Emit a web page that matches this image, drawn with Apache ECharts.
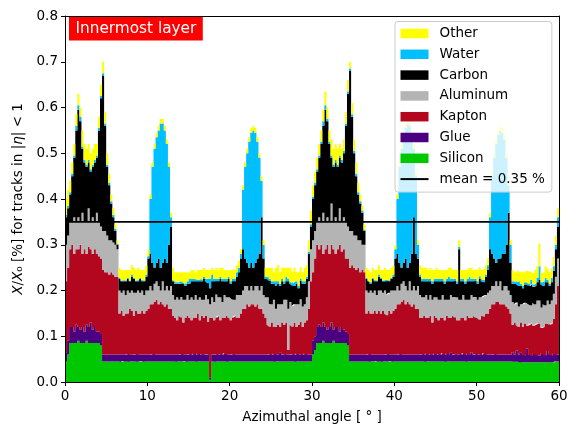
<!DOCTYPE html>
<html><head><meta charset="utf-8">
<script src="https://cdn.jsdelivr.net/npm/echarts@6/dist/echarts.min.js"></script>
<style>html,body{margin:0;padding:0;background:#fff}#c{width:577px;height:433px}</style>
</head><body><div id="c"></div>
<script>
// Bin width of the azimuthal histogram (degrees); one value per bin, bins start at 0
const binWidth = 0.25;
const xTickLabels = [0, 10, 20, 30, 40, 50, 60];
const meanValue = 0.35;
const meanName = 'mean = 0.35 %';

// Per-material X/X0 [%] per 0.25 degree bin (stacked bottom to top), 240 bins
const silicon = [
 .045,.06,.085,.085,.085,.085,.09,.085,.085,.085,
 .09,.085,.085,.085,.085,.085,.085,.08,.045,.045,
 .045,.045,.045,.045,.045,.045,.045,.044,.046,.045,
 .045,.044,.045,.045,.045,.044,.045,.046,.045,.045,
 .045,.045,.045,.045,.045,.045,.045,.045,.045,.045,
 .045,.045,.045,.045,.044,.045,.045,.045,.046,.045,
 .045,.045,.045,.045,.044,.045,.045,.045,.045,.045,
 .005,.045,.045,.044,.045,.045,.045,.045,.045,.044,
 .045,.045,.045,.045,.045,.045,.045,.045,.045,.045,
 .045,.045,.045,.045,.045,.045,.045,.045,.045,.045,
 .045,.045,.044,.045,.045,.045,.045,.045,.045,.045,
 .045,.045,.044,.045,.045,.045,.045,.045,.045,.045,
 .06,.07,.085,.085,.085,.09,.085,.085,.085,.085,
 .09,.085,.085,.085,.085,.085,.085,.08,.045,.045,
 .045,.045,.045,.045,.045,.045,.045,.045,.044,.045,
 .045,.046,.045,.045,.044,.045,.045,.045,.046,.045,
 .045,.045,.045,.045,.045,.045,.045,.045,.045,.045,
 .045,.045,.045,.045,.045,.044,.045,.045,.045,.045,
 .045,.045,.045,.045,.045,.044,.045,.045,.045,.045,
 .045,.045,.045,.045,.045,.044,.045,.045,.045,.045,
 .045,.045,.045,.045,.045,.045,.045,.045,.045,.045,
 .045,.045,.045,.045,.045,.045,.045,.045,.044,.044,
 .044,.043,.043,.043,.043,.043,.043,.043,.043,.043,
 .043,.043,.043,.043,.043,.043,.043,.043,.045,.045];
const glue = [
 .02,.03,.035,.035,.025,.04,.03,.03,.035,.025,
 .035,.035,.045,.03,.035,.025,.025,.025,.015,.015,
 .015,.015,.015,.015,.015,.015,.015,.016,.014,.015,
 .016,.016,.015,.015,.016,.016,.015,.014,.015,.015,
 .015,.015,.016,.015,.015,.015,.015,.015,.015,.015,
 .015,.015,.015,.015,.016,.015,.016,.015,.014,.015,
 .016,.015,.017,.015,.018,.015,.016,.015,.015,.016,
 .005,.015,.015,.017,.015,.016,.015,.018,.015,.016,
 .015,.016,.015,.015,.015,.015,.015,.015,.015,.015,
 .015,.015,.015,.015,.015,.015,.015,.015,.015,.016,
 .015,.017,.016,.015,.02,.015,.016,.015,.015,.015,
 .016,.015,.018,.015,.016,.015,.017,.015,.015,.015,
 .03,.03,.035,.04,.035,.04,.035,.03,.035,.045,
 .025,.035,.035,.025,.035,.03,.025,.025,.015,.015,
 .015,.015,.015,.015,.015,.015,.015,.016,.016,.015,
 .015,.014,.015,.015,.016,.015,.016,.015,.014,.015,
 .015,.015,.016,.015,.015,.015,.015,.015,.015,.015,
 .015,.015,.015,.016,.015,.018,.015,.016,.015,.017,
 .015,.016,.015,.018,.015,.018,.015,.02,.015,.016,
 .015,.016,.015,.018,.015,.018,.015,.02,.015,.016,
 .015,.016,.015,.018,.015,.015,.015,.015,.016,.015,
 .015,.015,.015,.015,.015,.015,.015,.02,.016,.025,
 .016,.022,.017,.015,.03,.017,.015,.02,.017,.015,
 .015,.02,.017,.015,.025,.017,.015,.02,.015,.015];
const kapton = [
 .155,.16,.17,.18,.17,.165,.17,.185,.16,.18,
 .155,.175,.16,.165,.17,.17,.165,.165,.185,.18,
 .18,.175,.18,.175,.17,.17,.09,.095,.085,.09,
 .089,.10,.095,.085,.094,.09,.09,.095,.09,.095,
 .10,.11,.109,.115,.12,.11,.115,.11,.105,.11,
 .10,.10,.085,.08,.075,.085,.08,.07,.08,.085,
 .079,.075,.078,.08,.088,.075,.084,.08,.085,.07,
 .13,.08,.075,.08,.085,.074,.08,.077,.085,.08,
 .075,.08,.085,.08,.08,.09,.10,.10,.11,.105,
 .11,.11,.105,.11,.10,.10,.09,.08,.065,.06,
 .07,.058,.06,.065,.055,.07,.064,.07,.01,.065,
 .06,.07,.058,.065,.07,.06,.068,.075,.10,.16,
 .15,.17,.18,.165,.18,.15,.17,.185,.16,.17,
 .175,.16,.17,.19,.165,.175,.16,.165,.19,.195,
 .19,.185,.19,.18,.185,.18,.09,.094,.09,.09,
 .095,.09,.095,.09,.095,.09,.085,.095,.09,.095,
 .10,.11,.109,.115,.12,.11,.115,.11,.105,.11,
 .10,.10,.08,.079,.085,.078,.08,.084,.07,.083,
 .08,.074,.08,.077,.075,.083,.08,.075,.085,.08,
 .075,.074,.08,.077,.075,.083,.08,.075,.085,.08,
 .08,.075,.085,.08,.09,.09,.10,.11,.109,.115,
 .115,.11,.11,.11,.105,.10,.09,.06,.07,.055,
 .06,.065,.06,.07,.05,.065,.07,.06,.065,.07,
 .07,.055,.06,.07,.06,.065,.07,.075,.11,.15];
const aluminum = [
 .08,.07,.06,.05,.08,.06,.07,.05,.09,.06,
 .07,.085,.06,.08,.06,.09,.075,.07,.085,.09,
 .08,.075,.07,.07,.07,.06,.05,.04,.055,.04,
 .05,.035,.045,.05,.04,.05,.045,.045,.04,.045,
 .04,.04,.03,.04,.04,.04,.025,.05,.035,.04,
 .04,.05,.045,.04,.05,.035,.045,.05,.04,.045,
 .04,.05,.04,.05,.03,.05,.035,.04,.045,.05,
 .03,.045,.04,.05,.04,.05,.035,.05,.04,.045,
 .05,.04,.035,.05,.05,.04,.04,.05,.04,.035,
 .04,.03,.045,.04,.04,.05,.04,.045,.06,.05,
 .04,.06,.04,.045,.05,.04,.055,.05,.09,.05,
 .045,.04,.05,.045,.05,.045,.04,.05,.06,.07,
 .07,.06,.05,.07,.05,.09,.06,.06,.07,.09,
 .06,.08,.06,.08,.065,.07,.08,.07,.08,.075,
 .07,.075,.06,.07,.055,.06,.05,.04,.05,.045,
 .045,.04,.045,.05,.04,.05,.045,.04,.05,.045,
 .04,.04,.03,.04,.04,.04,.025,.05,.035,.04,
 .04,.05,.05,.045,.04,.05,.04,.045,.05,.04,
 .045,.045,.04,.05,.045,.035,.04,.05,.04,.045,
 .05,.045,.04,.05,.045,.035,.04,.05,.04,.045,
 .04,.05,.04,.045,.04,.045,.04,.04,.04,.045,
 .035,.05,.03,.04,.045,.04,.04,.05,.04,.05,
 .045,.04,.05,.045,.05,.045,.04,.05,.045,.05,
 .05,.045,.05,.04,.05,.045,.05,.055,.06,.06];
const carbon = [
 .06,.06,.06,.10,.13,.20,.235,.22,.14,.13,
 .12,.10,.11,.11,.13,.12,.20,.28,.34,.23,
 .15,.12,.08,.055,.03,.01,.025,.025,.02,.03,
 .025,.025,.03,.03,.025,.02,.03,.02,.03,.03,
 .07,.07,.06,.035,.04,.06,.05,.04,.07,.05,
 .10,.13,.03,.035,.03,.035,.03,.035,.03,.025,
 .035,.035,.04,.03,.04,.035,.04,.045,.03,.035,
 .035,.035,.045,.03,.035,.04,.045,.03,.035,.04,
 .03,.04,.04,.04,.05,.08,.09,.06,.05,.05,
 .05,.05,.05,.06,.08,.15,.08,.04,.04,.05,
 .045,.035,.05,.045,.04,.05,.035,.04,.06,.04,
 .045,.04,.045,.035,.04,.05,.045,.04,.06,.05,
 .09,.10,.11,.13,.17,.19,.245,.21,.17,.10,
 .12,.12,.12,.11,.13,.14,.21,.29,.35,.25,
 .18,.13,.10,.08,.07,.03,.025,.025,.015,.03,
 .02,.03,.03,.025,.025,.02,.03,.025,.025,.03,
 .07,.07,.06,.035,.04,.06,.05,.04,.08,.15,
 .08,.06,.04,.035,.035,.03,.04,.03,.035,.035,
 .035,.04,.04,.03,.035,.04,.04,.03,.035,.035,
 .03,.11,.04,.03,.035,.04,.04,.03,.035,.035,
 .035,.04,.035,.03,.04,.05,.09,.07,.06,.04,
 .06,.05,.08,.07,.09,.17,.07,.04,.045,.04,
 .045,.04,.035,.04,.04,.04,.045,.035,.04,.04,
 .045,.05,.04,.05,.04,.04,.04,.05,.06,.07];
const water = [
 .005,.005,.005,.005,.005,.01,.01,.01,.005,.005,
 .005,.005,.005,.005,.005,.005,.005,.005,.005,.005,
 .005,.005,.005,.005,.005,.002,.003,.002,.003,.002,
 .003,.002,.005,.003,.002,.003,.003,.003,.002,.005,
 .005,.12,.21,.26,.275,.28,.315,.305,.28,.26,
 .17,.02,.003,.005,.002,.005,.004,.003,.005,.005,
 .01,.005,.005,.005,.003,.005,.004,.005,.005,.01,
 .02,.015,.005,.005,.005,.005,.005,.005,.005,.005,
 .005,.005,.005,.01,.01,.01,.13,.20,.24,.275,
 .285,.30,.285,.255,.21,.08,.03,.005,.005,.004,
 .005,.005,.01,.005,.005,.005,.005,.01,.005,.005,
 .005,.01,.005,.005,.005,.005,.005,.005,.005,.005,
 .005,.005,.005,.005,.005,.01,.01,.005,.005,.005,
 .005,.005,.005,.005,.005,.005,.005,.005,.005,.005,
 .005,.005,.005,.005,.005,.003,.003,.002,.003,.003,
 .003,.002,.005,.003,.002,.003,.003,.002,.003,.005,
 .02,.12,.21,.26,.28,.285,.315,.30,.26,.15,
 .17,.03,.005,.005,.005,.005,.005,.005,.005,.005,
 .005,.005,.005,.005,.005,.005,.01,.005,.005,.005,
 .005,.005,.005,.005,.005,.005,.01,.005,.005,.005,
 .005,.005,.005,.005,.005,.01,.07,.17,.22,.26,
 .27,.28,.265,.25,.19,.06,.04,.005,.005,.005,
 .01,.005,.005,.005,.005,.005,.01,.005,.005,.01,
 .03,.005,.01,.01,.005,.005,.01,.01,.01,.02];
const other = [
 .035,.035,.025,.025,.025,.025,.025,.02,.035,.035,
 .035,.035,.035,.035,.035,.025,.025,.025,.025,.025,
 .025,.02,.015,.015,.01,.008,.022,.023,.022,.023,
 .017,.023,.02,.022,.023,.027,.017,.022,.023,.02,
 .015,.01,.01,.01,.01,.01,.01,.01,.01,.01,
 .01,.01,.027,.02,.023,.02,.02,.022,.025,.02,
 .015,.02,.02,.015,.022,.02,.021,.02,.02,.019,
 .02,.015,.02,.024,.02,.02,.025,.02,.02,.015,
 .025,.02,.02,.015,.015,.01,.01,.01,.01,.01,
 .01,.01,.01,.01,.01,.01,.01,.02,.02,.025,
 .03,.02,.03,.035,.025,.025,.03,.02,.025,.03,
 .025,.03,.02,.03,.025,.02,.03,.025,.025,.03,
 .025,.025,.025,.025,.025,.025,.03,.025,.025,.035,
 .035,.035,.035,.025,.025,.025,.025,.025,.015,.025,
 .025,.025,.02,.015,.01,.012,.022,.023,.022,.022,
 .022,.023,.02,.017,.023,.027,.021,.023,.022,.02,
 .01,.01,.01,.01,.01,.01,.01,.01,.01,.01,
 .01,.01,.02,.025,.025,.025,.02,.025,.025,.02,
 .025,.02,.02,.02,.025,.02,.02,.025,.02,.02,
 .025,.015,.02,.02,.025,.02,.02,.025,.02,.02,
 .025,.02,.02,.025,.02,.015,.01,.01,.01,.01,
 .01,.01,.01,.01,.01,.01,.01,.025,.02,.025,
 .02,.025,.03,.025,.025,.025,.02,.025,.03,.025,
 .05,.02,.02,.025,.025,.025,.02,.02,.02,.02];

// Bin edges as category labels (0, 0.25, ..., 60)
const angles = [];
for (let i = 0; i <= silicon.length; i++) angles.push(String(i * binWidth));

const layers = [
  {name: 'Silicon',  data: silicon,  color: '#00c800'},
  {name: 'Glue',     data: glue,     color: '#4b0082'},
  {name: 'Kapton',   data: kapton,   color: '#b2071f'},
  {name: 'Aluminum', data: aluminum, color: '#b4b4b4'},
  {name: 'Carbon',   data: carbon,   color: '#000000'},
  {name: 'Water',    data: water,    color: '#00bfff'},
  {name: 'Other',    data: other,    color: '#ffff00'}
];

const FONT = 'DejaVu Sans';
const tickFn = (idx, val) => xTickLabels.indexOf(Number(val)) >= 0;

const series = layers.map(l => ({
  name: l.name, type: 'line', stack: 'materials', step: 'end', symbol: 'none',
  color: l.color,
  data: l.data.concat([l.data[l.data.length - 1]]),
  lineStyle: {width: 0, opacity: 0},
  areaStyle: {color: l.color, opacity: 1},
  emphasis: {disabled: true}, silent: true, z: 2
}));
series.push({
  name: meanName, type: 'line', symbol: 'none', color: '#000',
  data: [[angles[0], meanValue], [angles[angles.length - 1], meanValue]],
  lineStyle: {color: '#000', width: 1.8},
  emphasis: {disabled: true}, silent: true, z: 5
});

const legendData = layers.slice().reverse().map(l => ({name: l.name, icon: 'rect'}));
legendData.push({name: meanName, icon: 'path://M0,0H28V2H0Z'});

const chart = echarts.init(document.getElementById('c'), null, {renderer: 'canvas'});
chart.setOption({
  animation: false,
  backgroundColor: '#fff',
  textStyle: {fontFamily: FONT},
  title: {
    text: 'Innermost layer', left: 69, top: 17,
    padding: [3, 6.5, 3, 6.5], backgroundColor: '#ff0000',
    textStyle: {color: '#fff', fontSize: 15.3, fontWeight: 'normal', fontFamily: FONT, lineHeight: 17.5}
  },
  legend: {
    orient: 'vertical', left: 395, top: 21.5,
    data: legendData,
    itemWidth: 28, itemHeight: 9.5, itemGap: 4.8,
    padding: [4, 7, 5, 5.5],
    backgroundColor: 'rgba(255,255,255,0.8)', borderColor: '#cccccc', borderWidth: 1, borderRadius: 3,
    textStyle: {fontSize: 13.5, color: '#000', fontFamily: FONT, lineHeight: 16, padding: [0, 0, 0, 6]},
    selectedMode: false
  },
  grid: {left: 65, right: 18, top: 16, bottom: 51, show: false},
  xAxis: [{
    type: 'category', data: angles, boundaryGap: false,
    axisLine: {show: true, onZero: false, lineStyle: {color: '#000', width: 1}},
    axisTick: {show: true, length: 4, interval: tickFn, lineStyle: {color: '#000'}},
    axisLabel: {interval: tickFn, margin: 7, color: '#000', fontSize: 13.5, fontFamily: FONT},
    splitLine: {show: false},
    name: 'Azimuthal angle [ ° ]', nameLocation: 'middle', nameGap: 28,
    nameTextStyle: {fontSize: 13.5, color: '#000', fontFamily: FONT},
    z: 10
  }, {
    type: 'value', position: 'top', min: 0, max: 60,
    axisLine: {show: true, onZero: false, lineStyle: {color: '#000', width: 1}},
    axisTick: {show: false}, axisLabel: {show: false}, splitLine: {show: false}, z: 10
  }],
  yAxis: [{
    type: 'value', min: 0, max: 0.8, interval: 0.1,
    axisLine: {show: true, onZero: false, lineStyle: {color: '#000', width: 1}},
    axisTick: {show: true, length: 4, lineStyle: {color: '#000'}},
    axisLabel: {formatter: v => v.toFixed(1), margin: 7, color: '#000', fontSize: 13.5, fontFamily: FONT},
    splitLine: {show: false},
    name: '{i|X}/{i|X}₀ [%] for tracks in |{i|η}| < 1', nameLocation: 'middle', nameGap: 33,
    nameTextStyle: {fontSize: 13.5, color: '#000', fontFamily: FONT,
      rich: {i: {fontStyle: 'italic', fontSize: 13.5, color: '#000', fontFamily: FONT}}},
    z: 10
  }, {
    type: 'value', position: 'right', min: 0, max: 0.8,
    axisLine: {show: true, onZero: false, lineStyle: {color: '#000', width: 1}},
    axisTick: {show: false}, axisLabel: {show: false}, splitLine: {show: false}, z: 10
  }],
  series: series
});
</script>
</body></html>
